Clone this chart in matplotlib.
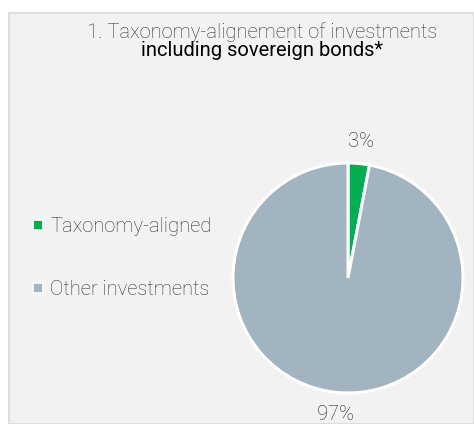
import matplotlib.pyplot as plt
from matplotlib.patches import Rectangle
from matplotlib.lines import Line2D

categories = ['Taxonomy-aligned', 'Other investments']
shares = [3, 97]
colors = ['#00b050', '#a2b4c0']
title1 = '1. Taxonomy-alignement of investments'
title2 = 'including sovereign bonds*'

plt.rcParams['font.family'] = ['Roboto', 'DejaVu Sans']

W, H = 474, 424
fig = plt.figure(figsize=(W/100, H/100), dpi=100)
fig.patch.set_facecolor('white')

# grey panel behind everything
fig.patches.append(Rectangle((9/W, 0), 1 - 9/W, 1 - 13/H, transform=fig.transFigure,
                             facecolor='#f2f2f2', edgecolor='#d9d9d9', lw=1.2, zorder=-5))

fig.text(262/W, 1 - 32/H, title1, ha='center', va='center', fontsize=14.5, fontweight='light', color='#333333')
fig.text(262/W, 1 - 51/H, title2, ha='center', va='center', fontsize=14.5, color='#000000')

# pie axes, centre (348, 278), radius ~115 px
cx, cy, r = 348, 278, 115
half = 150
ax = fig.add_axes([(cx - half)/W, 1 - (cy + half)/H, 2*half/W, 2*half/H])

wedges, texts = ax.pie(shares, colors=colors, startangle=90, counterclock=False,
                       labels=['%d%%' % s for s in shares], labeldistance=1.19,
                       wedgeprops=dict(edgecolor='white', linewidth=2.2),
                       textprops=dict(fontsize=14.5, fontweight='light', color='#222222'))
for t in texts:
    t.set_ha('center')
    t.set_va('center')
# pie() resets the limits, so set them afterwards
ax.set_xlim(-half/r, half/r)
ax.set_ylim(-half/r, half/r)
ax.set_aspect('equal')
ax.axis('off')

handles = [Line2D([], [], marker='s', ls='none', markersize=6.5, markerfacecolor=c,
                  markeredgecolor='white', markeredgewidth=1.2) for c in colors]
fig.legend(handles, categories, loc='center left', bbox_to_anchor=(14/W, 1 - 258/H),
           frameon=False, labelspacing=2.2, handlelength=0.6,
           handletextpad=0.3, prop=dict(weight='light', size=14.5), labelcolor='#333333')

fig.savefig('out.png', dpi=100)
